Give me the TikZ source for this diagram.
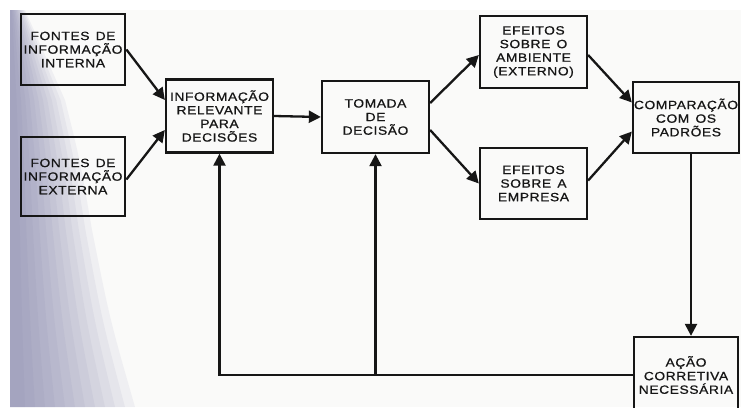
\documentclass[tikz,border=0pt]{standalone}
\usepackage{fontspec}
\newfontfamily\diagfont{Liberation Sans}[FakeStretch=1.15,LetterSpace=5,FakeBold=0.8,WordSpace=1.4]
\usetikzlibrary{arrows.meta,calc}
\definecolor{paper}{RGB}{250,250,249}
\definecolor{scanshadow}{RGB}{115,115,160}
\definecolor{ink}{RGB}{22,22,22}
\begin{document}
\begin{tikzpicture}[x=1pt,y=-1pt,
  box/.style={draw=ink, line width=2.3pt, rectangle, align=center, inner sep=0pt,
    font=\diagfont\fontsize{12}{13.6}\selectfont, text=ink},
  thickbox/.style={box, line width=2.8pt},
  conn/.style={line width=2.3pt, draw=ink, -{Triangle[length=12pt,width=12pt]}},
]
\useasboundingbox (0,0) rectangle (741,407);
\fill[white] (0,0) rectangle (741,407);
\fill[paper] (10,10) rectangle (741,407);
\foreach \f in {1,0.92,...,0.1}{
  \fill[scanshadow, opacity=0.075] (10,10) -- ({10+15*\f},10)
    .. controls ({10+35*\f},55) .. ({10+55*\f},100)
    .. controls ({10+70*\f},160) .. ({10+82*\f},230)
    .. controls ({10+100*\f},320) .. ({10+125*\f},407) -- (10,407) -- cycle;
}

\node[thickbox, minimum width=104pt, minimum height=71pt] (b1) at (73,49.5)
  {FONTES DE\\INFORMAÇÃO\\INTERNA};
\node[thickbox, minimum width=104pt, minimum height=79pt] (b2) at (73,176.5)
  {FONTES DE\\INFORMAÇÃO\\EXTERNA};
\node[box, minimum width=107pt, minimum height=73pt] (info) at (219.5,116)
  {INFORMAÇÃO\\RELEVANTE\\PARA\\DECISÕES};
\node[box, minimum width=107pt, minimum height=72pt] (tom) at (375.5,117)
  {TOMADA\\DE\\DECISÃO};
\node[box, minimum width=107pt, minimum height=72pt] (amb) at (533.5,52)
  {EFEITOS\\SOBRE O\\AMBIENTE\\(EXTERNO)};
\node[box, minimum width=107pt, minimum height=71pt] (emp) at (533.5,183.5)
  {EFEITOS\\SOBRE A\\EMPRESA};
\node[box, minimum width=106pt, minimum height=71pt] (comp) at (686,117.5)
  {COMPARAÇÃO\\COM OS\\PADRÕES};
\node[box, minimum width=104pt, minimum height=76pt] (acao) at (686,375)
  {AÇÃO\\CORRETIVA\\NECESSÁRIA};

\draw[conn] (b1.east) -- ([yshift=16pt]info.west);
\draw[conn] ([yshift=-3pt]b2.east) -- ([yshift=-14pt]info.west);
\draw[conn] (info.east) -- (tom.west);
\draw[conn] ([yshift=14pt]tom.east) -- ([yshift=-3pt]amb.west);
\draw[conn] ([yshift=-13pt]tom.east) -- (emp.west);
\draw[conn] ([yshift=-3pt]amb.east) -- ([yshift=15pt]comp.west);
\draw[conn] ([yshift=3pt]emp.east) -- ([yshift=-14pt]comp.west);
\draw[conn] ([xshift=5pt]comp.south) -- ([xshift=5pt]acao.north);
\coordinate (j) at (tom.south |- acao.west);
\draw[conn] (acao.west) -| (info.south);
\draw[conn] (j) -- (tom.south);
\end{tikzpicture}
\end{document}
